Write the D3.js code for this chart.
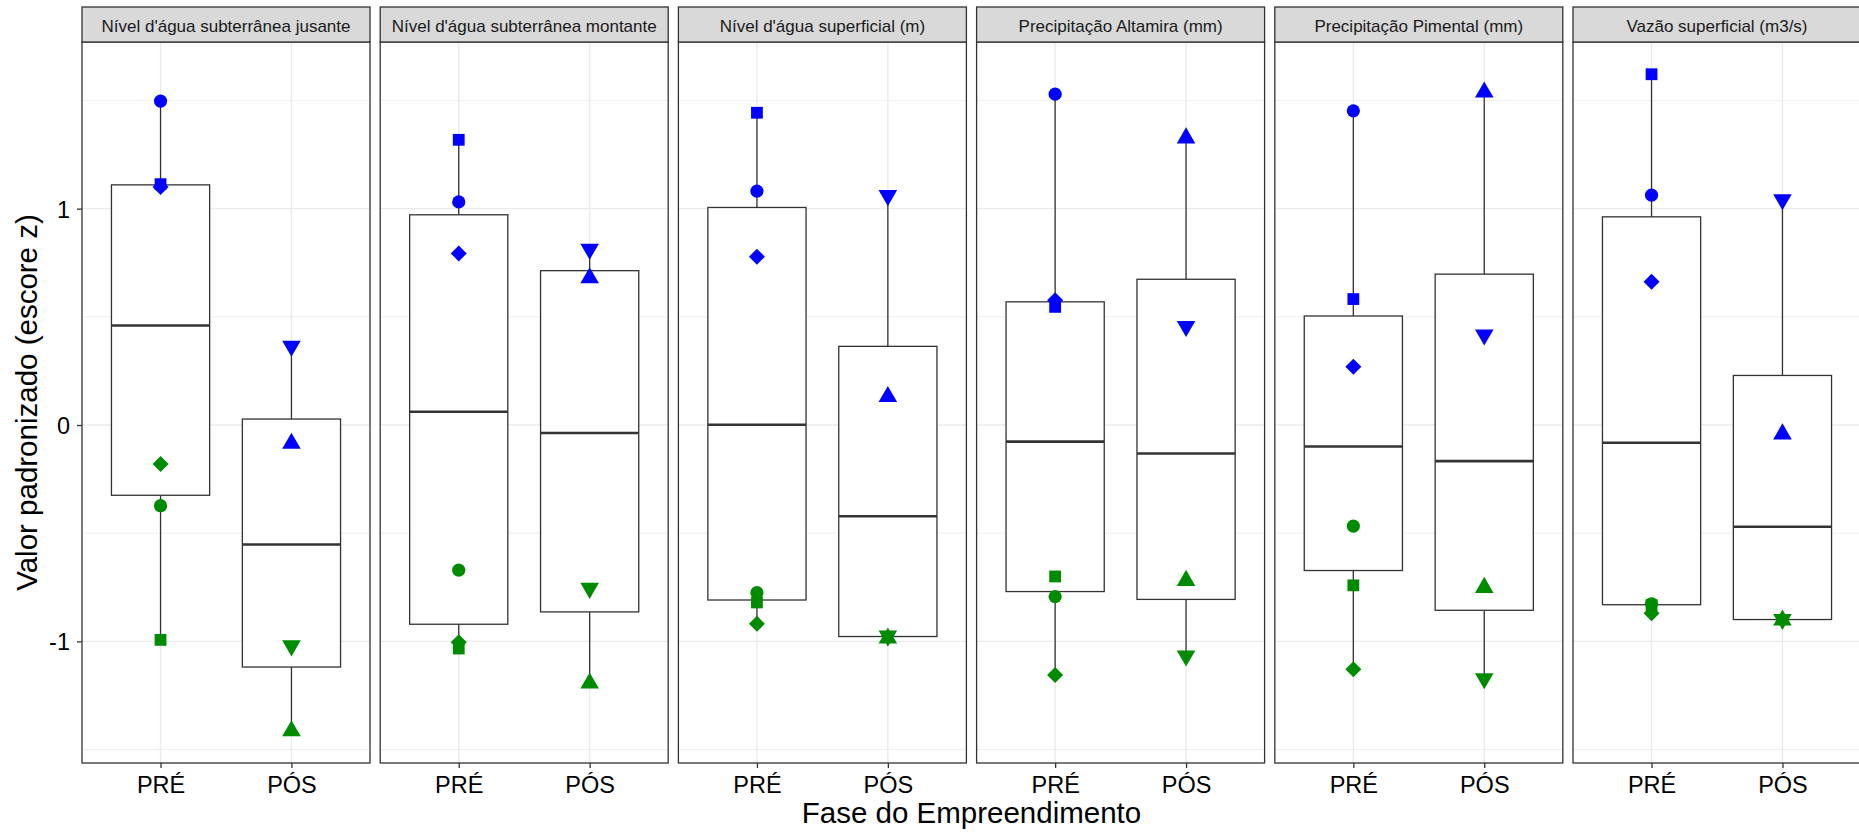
<!DOCTYPE html>
<html><head><meta charset="utf-8">
<script src="https://cdn.jsdelivr.net/npm/d3@7"></script>
<style>
body{margin:0;background:#fff}
svg{display:block}
text{font-family:"Liberation Sans", Arial, Helvetica, sans-serif}
</style>
</head><body>
<svg id="chart" width="1859" height="832"></svg>
<script>
// ---------------- DATA ----------------
const panelNames = [
  "Nível d'água subterrânea jusante",
  "Nível d'água subterrânea montante",
  "Nível d'água superficial (m)",
  "Precipitação Altamira (mm)",
  "Precipitação Pimental (mm)",
  "Vazão superficial (m3/s)"
];
const phases = ["PRÉ", "PÓS"];
const yTickValues = [-1, 0, 1];
const yTickLabels = ["-1", "0", "1"];
const yMinorValues = [-1.5, -0.5, 0.5, 1.5];
const xTitle = "Fase do Empreendimento";
const yTitle = "Valor padronizado (escore z)";

// PRÉ series: one value per panel (same order as panelNames)
const preBlueCircle   = [1.497, 1.031, 1.081, 1.529, 1.452, 1.062];
const preBlueSquare   = [1.113, 1.318, 1.443, 0.546, 0.582, 1.621];
const preBlueDiamond  = [1.100, 0.793, 0.778, 0.577, 0.269, 0.662];
const preGreenCircle  = [-0.373, -0.671, -0.775, -0.793, -0.467, -0.826];
const preGreenSquare  = [-0.993, -1.033, -0.820, -0.700, -0.741, -0.832];
const preGreenDiamond = [-0.180, -1.004, -0.919, -1.155, -1.129, -0.870];
// PÓS series
const posBlueUp    = [-0.085, 0.680, 0.131, 1.326, 1.538, -0.042];
const posBlueDown  = [0.365, 0.813, 1.061, 0.456, 0.417, 1.042];
const posGreenUp   = [-1.414, -1.193, -0.985, -0.719, -0.751, -0.902];
const posGreenDown = [-1.020, -0.754, -0.975, -1.067, -1.172, -0.898];

const BLUE = "#0000FF", GREEN = "#008B00";
const series = [
  {phase: "PRÉ", color: BLUE,  shape: "circle",  values: preBlueCircle},
  {phase: "PRÉ", color: BLUE,  shape: "square",  values: preBlueSquare},
  {phase: "PRÉ", color: BLUE,  shape: "diamond", values: preBlueDiamond},
  {phase: "PRÉ", color: GREEN, shape: "circle",  values: preGreenCircle},
  {phase: "PRÉ", color: GREEN, shape: "square",  values: preGreenSquare},
  {phase: "PRÉ", color: GREEN, shape: "diamond", values: preGreenDiamond},
  {phase: "PÓS", color: BLUE,  shape: "up",      values: posBlueUp},
  {phase: "PÓS", color: BLUE,  shape: "down",    values: posBlueDown},
  {phase: "PÓS", color: GREEN, shape: "up",      values: posGreenUp},
  {phase: "PÓS", color: GREEN, shape: "down",    values: posGreenDown}
];

// ---------------- LAYOUT ----------------
const svg = d3.select("#chart");
const plotLeft = 82, plotRight = 1861, stripTop = 7, panelTop = 42, panelBottom = 763;
const gapFrac = 10.2 / 298.2;
const gridCol = "#EBEBEB", lineCol = "#333333";

const px = d3.scaleBand().domain(panelNames).range([plotLeft, plotRight])
  .paddingInner(gapFrac).paddingOuter(0);
const panelW = px.bandwidth();
const y = d3.scaleLinear().domain([-1.562, 1.77]).range([panelBottom, panelTop]);
const x = d3.scalePoint().domain(phases).range([0, panelW]).padding(0.6);
const boxW = x.step() * 0.75;

function shapePath(s) {
  const r = 6.9;
  switch (s) {
    case "square": { const h = 5.9; return `M${-h},${-h}H${h}V${h}H${-h}Z`; }
    case "diamond": { const h = 8; return `M${-h},0L0,${-h}L${h},0L0,${h}Z`; }
    case "up": return `M0,${-1.5551*r}L${1.3468*r},${0.7776*r}L${-1.3468*r},${0.7776*r}Z`;
    case "down": return `M0,${1.5551*r}L${1.3468*r},${-0.7776*r}L${-1.3468*r},${-0.7776*r}Z`;
    default: { const c = 6.6; return `M${-c},0A${c},${c} 0 1,0 ${c},0A${c},${c} 0 1,0 ${-c},0Z`; }
  }
}

panelNames.forEach((name, pi) => {
  const g = svg.append("g").attr("transform", `translate(${px(name)},0)`);
  g.append("rect").attr("x", 0).attr("y", panelTop).attr("width", panelW)
    .attr("height", panelBottom - panelTop).attr("fill", "#fff");
  g.selectAll(".ymin").data(yMinorValues).join("line")
    .attr("x1", 0).attr("x2", panelW).attr("y1", d => y(d)).attr("y2", d => y(d))
    .attr("stroke", gridCol).attr("stroke-width", 0.8);
  g.selectAll(".ymaj").data(yTickValues).join("line")
    .attr("x1", 0).attr("x2", panelW).attr("y1", d => y(d)).attr("y2", d => y(d))
    .attr("stroke", gridCol).attr("stroke-width", 1.4);
  g.selectAll(".xmaj").data(phases).join("line")
    .attr("x1", d => x(d)).attr("x2", d => x(d)).attr("y1", panelTop).attr("y2", panelBottom)
    .attr("stroke", gridCol).attr("stroke-width", 1.4);

  phases.forEach(ph => {
    const vals = series.filter(s => s.phase === ph).map(s => s.values[pi]).sort(d3.ascending);
    const q1 = d3.quantile(vals, 0.25), med = d3.quantile(vals, 0.5), q3 = d3.quantile(vals, 0.75);
    const iqr = q3 - q1;
    const lo = d3.min(vals.filter(v => v >= q1 - 1.5 * iqr));
    const hi = d3.max(vals.filter(v => v <= q3 + 1.5 * iqr));
    const cx = x(ph);
    g.append("line").attr("x1", cx).attr("x2", cx).attr("y1", y(q3)).attr("y2", y(hi))
      .attr("stroke", lineCol).attr("stroke-width", 1.3);
    g.append("line").attr("x1", cx).attr("x2", cx).attr("y1", y(q1)).attr("y2", y(lo))
      .attr("stroke", lineCol).attr("stroke-width", 1.3);
    g.append("rect").attr("x", cx - boxW / 2).attr("width", boxW)
      .attr("y", y(q3)).attr("height", y(q1) - y(q3))
      .attr("fill", "#fff").attr("stroke", lineCol).attr("stroke-width", 1.3);
    g.append("line").attr("x1", cx - boxW / 2).attr("x2", cx + boxW / 2)
      .attr("y1", y(med)).attr("y2", y(med)).attr("stroke", lineCol).attr("stroke-width", 2.6);
  });

  g.selectAll(".pt").data(series).join("path")
    .attr("d", d => shapePath(d.shape))
    .attr("transform", d => `translate(${x(d.phase)},${y(d.values[pi])})`)
    .attr("fill", d => d.color);

  g.append("rect").attr("x", 0).attr("y", panelTop).attr("width", panelW)
    .attr("height", panelBottom - panelTop).attr("fill", "none")
    .attr("stroke", lineCol).attr("stroke-width", 1.3);
  g.append("rect").attr("x", 0).attr("y", stripTop).attr("width", panelW)
    .attr("height", panelTop - stripTop).attr("fill", "#D9D9D9")
    .attr("stroke", lineCol).attr("stroke-width", 1.3);
  g.append("text").attr("x", panelW / 2).attr("y", 31.5).attr("text-anchor", "middle")
    .attr("font-size", 17).attr("fill", "#1A1A1A").text(name);

  const xa = g.append("g").attr("transform", `translate(0,${panelBottom})`)
    .call(d3.axisBottom(x).tickSize(5).tickPadding(7));
  xa.select(".domain").remove();
  xa.selectAll(".tick line").attr("stroke", lineCol).attr("stroke-width", 1.3);
  xa.selectAll(".tick text").attr("font-size", 23.5).attr("fill", "#000")
    .attr("font-family", "'Liberation Sans', Arial, sans-serif").attr("dy", 0).attr("y", 30);
});

const ya = svg.append("g").attr("transform", `translate(${plotLeft},0)`)
  .call(d3.axisLeft(y).tickValues(yTickValues).tickFormat((d, i) => yTickLabels[i]).tickSize(5).tickPadding(7));
ya.select(".domain").remove();
ya.selectAll(".tick line").attr("stroke", lineCol).attr("stroke-width", 1.3);
ya.selectAll(".tick text").attr("font-size", 23.5).attr("fill", "#000")
  .attr("font-family", "'Liberation Sans', Arial, sans-serif").attr("dy", "0.36em");

svg.append("text").attr("x", (plotLeft + plotRight) / 2)
  .attr("y", 823).attr("text-anchor", "middle").attr("font-size", 29.5).attr("fill", "#000").text(xTitle);
svg.append("text").attr("transform", `translate(37,${(panelTop + panelBottom) / 2}) rotate(-90)`)
  .attr("text-anchor", "middle").attr("font-size", 29.5).attr("fill", "#000").text(yTitle);
</script>
</body></html>
